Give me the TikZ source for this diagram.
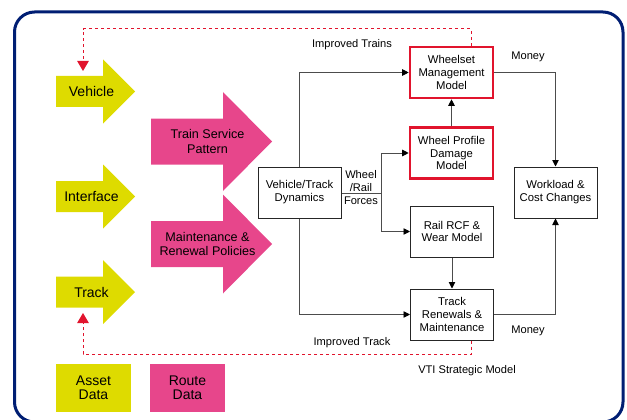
\documentclass[tikz,border=0pt]{standalone}
\usepackage{fontspec}
\setmainfont{Liberation Sans}
\usetikzlibrary{arrows.meta, positioning}
\definecolor{vtiyellow}{RGB}{222,219,0}
\definecolor{vtipink}{RGB}{231,70,139}
\definecolor{vtired}{RGB}{225,20,45}
\definecolor{vtinavy}{RGB}{0,30,115}

\newcommand{\vtiboxfont}{\fontsize{11.3}{12.9}\selectfont}
\newcommand{\vtilblfont}{\fontsize{11.1}{13}\selectfont}
\newcommand{\vtiinfont}{\fontsize{14}{14.3}\selectfont}
\newcommand{\vtipolfont}{\fontsize{12.6}{14.7}\selectfont}

\begin{document}
\begin{tikzpicture}[x=1pt, y=-1pt,
  box/.style={draw=black!85, line width=1pt, minimum width=83pt, minimum height=51pt, align=center, font=\vtiboxfont, inner sep=1pt},
  redbox/.style={box, draw=vtired, line width=2.6pt},
  inlabel/.style={font=\vtiinfont, align=center, inner sep=0pt},
  pollabel/.style={font=\vtipolfont, align=center, inner sep=0pt},
  databox/.style={minimum width=75pt, minimum height=48pt, inner sep=0pt, font=\vtiinfont, align=center},
  lbl/.style={font=\vtilblfont, align=center, inner sep=1pt},
  link/.style={black!70, line width=0.9pt},
  flow/.style={link, -{Triangle[length=6.5pt, width=6.5pt, black]}},
  feedback/.style={vtired, line width=1pt, dash pattern=on 3pt off 3pt, -{Triangle[length=10pt, width=11.5pt]}},
]
\useasboundingbox (0,0) rectangle (627,420);
\draw[vtinavy, line width=3pt, rounded corners=20pt] (14.5,12) rectangle (623,422);

% inputs
\foreach \nm/\yc/\txt in {veh/91.5/Vehicle, intf/196.5/Interface, trk/292/Track}{
  \fill[vtiyellow] (56,\yc-15.5) -- (103,\yc-15.5) -- (103,\yc-32) -- (135,\yc)
    -- (103,\yc+32) -- (103,\yc+15.5) -- (56,\yc+15.5) -- cycle;
  \node[inlabel] (\nm) at (91.5,\yc) {\txt};
}
\foreach \nm/\yc/\txt in {tsp/141.5/Train Service\\Pattern, mrp/244/Maintenance \&\\Renewal Policies}{
  \fill[vtipink] (151,\yc-23) -- (223,\yc-23) -- (223,\yc-49.5) -- (272,\yc)
    -- (223,\yc+49.5) -- (223,\yc+23) -- (151,\yc+23) -- cycle;
  \node[pollabel] (\nm) at (207.5,\yc) {\txt};
}

\node[databox, fill=vtiyellow] (asset) at (93.5,388) {Asset\\Data};
\node[databox, fill=vtipink] (route) at (187.5,388) {Route\\Data};

% models
\node[box] (dyn) at (299.5,192.5) {Vehicle/Track\\Dynamics};
\node[redbox] (wms) at (451.5,72.5) {Wheelset\\Management\\Model};
\node[redbox] (wpd) at (451.5,153) {Wheel Profile\\Damage\\Model};
\node[box] (rcf) at (452,231.5) {Rail RCF \&\\Wear Model};
\node[box] (trm) at (452,314.5) {Track\\Renewals \&\\Maintenance};
\node[box] (wcc) at (555.5,192.5) {Workload \&\\Cost Changes};

\coordinate (split) at (381,193);
\coordinate (trainsin) at (83,71);
\coordinate (trackin) at (83,313);

\draw[flow] (dyn.north) |- (wms.west);
\draw[flow] (dyn.south) |- (trm.west);
\draw[link] (dyn.east |- split) -- (split);
\draw[flow] (split) |- (wpd.west);
\draw[flow] (split) |- (rcf.west);
\draw[flow] (wpd) -- (wms);
\draw[flow] (rcf) -- (trm);
\draw[flow] (wms.east) -| (wcc.north);
\draw[flow] (trm.east) -| (wcc.south);

\draw[feedback] ([xshift=19.5pt]wms.north) |- (83,29) -- (trainsin);
\draw[feedback] ([xshift=19.5pt]trm.south) |- (83,354) -- (trackin);

% labels
\node[lbl, anchor=south] (wrlbl) at (361,193) {Wheel\\/Rail};
\node[lbl, anchor=north] (forceslbl) at (361,196) {Forces};
\node[lbl] (money1) at (528,57) {Money};
\node[lbl] (money2) at (528,331) {Money};
\node[lbl] (trainslbl) at (352,45) {Improved Trains};
\node[lbl] (tracklbl) at (352,343) {Improved Track};
\node[lbl] (vtilbl) at (467,371) {VTI Strategic Model};
\end{tikzpicture}
\end{document}
